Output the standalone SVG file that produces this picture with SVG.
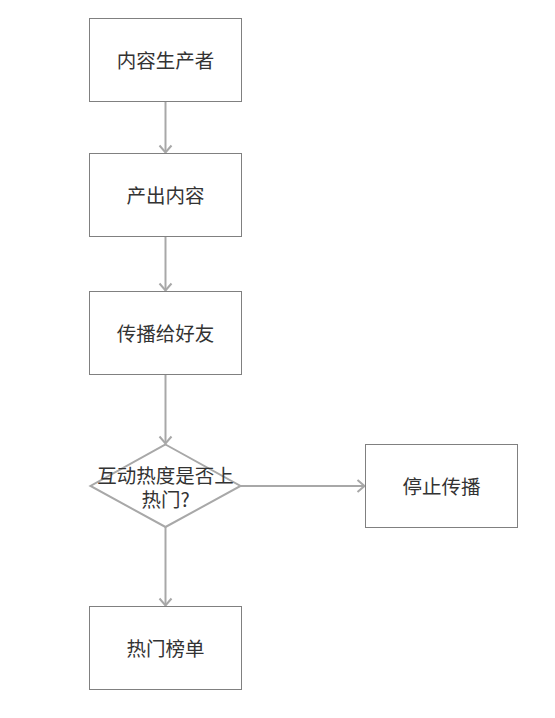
<svg xmlns="http://www.w3.org/2000/svg" width="555" height="718" viewBox="0 0 555 718">
<style>
.box{fill:#ffffff;stroke:#808080;stroke-width:1}
.lbl{font-family:"Microsoft YaHei","Noto Sans CJK SC","Noto Sans",sans-serif;font-size:19.5px;fill:#333333;text-anchor:middle;dominant-baseline:central}
.edge{fill:none;stroke:#a8a8a8;stroke-width:2;marker-end:url(#arr)}
</style>
<defs>
<marker id="arr" markerUnits="userSpaceOnUse" viewBox="-10 -8 12 16" refX="0" refY="0" markerWidth="12" markerHeight="16" orient="auto">
<path d="M-7,-6 L0,0 L-7,6" fill="none" stroke="#a8a8a8" stroke-width="2"/>
</marker>
</defs>
<rect width="555" height="718" fill="#ffffff"/>
<g id="connectors">
<line class="edge" x1="165.5" y1="101.5" x2="165.5" y2="152.5"/>
<line class="edge" x1="165.5" y1="236.5" x2="165.5" y2="290.5"/>
<line class="edge" x1="165.5" y1="374.5" x2="165.5" y2="443.5"/>
<line class="edge" x1="240.5" y1="486" x2="364.5" y2="486"/>
<line class="edge" x1="165.5" y1="527" x2="165.5" y2="605.5"/>
</g>
<g id="n1"><rect class="box" x="89.5" y="18.5" width="152" height="83"/><text class="lbl" x="165.5" y="59.5">内容生产者</text></g>
<g id="n2"><rect class="box" x="89.5" y="153.5" width="152" height="83"/><text class="lbl" x="165.5" y="194.5">产出内容</text></g>
<g id="n3"><rect class="box" x="89.5" y="291.5" width="152" height="83"/><text class="lbl" x="165.5" y="332.5">传播给好友</text></g>
<g id="n4"><polygon points="165.5,444.5 240.5,486 165.5,527 90.5,486" fill="#ffffff" stroke="#a8a8a8" stroke-width="2"/><text class="lbl" x="165.5" y="474.5">互动热度是否上</text><text class="lbl" x="165.5" y="498.5">热门?</text></g>
<g id="n5"><rect class="box" x="365.5" y="444.5" width="152" height="83"/><text class="lbl" x="441.5" y="485.5">停止传播</text></g>
<g id="n6"><rect class="box" x="89.5" y="606.5" width="152" height="83"/><text class="lbl" x="165.5" y="647.5">热门榜单</text></g>
</svg>
